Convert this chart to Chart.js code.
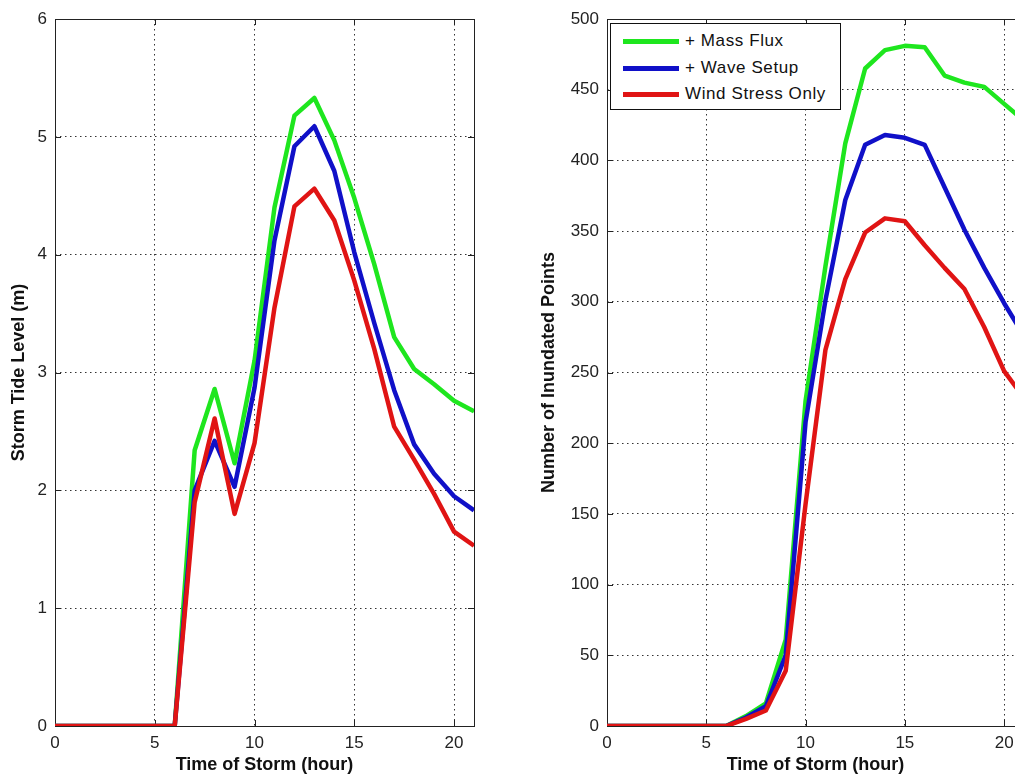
<!DOCTYPE html>
<html>
<head>
<meta charset="utf-8">
<script src="https://cdn.jsdelivr.net/npm/chart.js@4"></script>
<style>
html, body { margin: 0; padding: 0; background: #fff; overflow: hidden; }
#wrap { position: relative; width: 1015px; height: 778px; overflow: hidden; background: #fff; }
#tideChart { position: absolute; left: 0; top: 0; }
#pointsChart { position: absolute; left: 530px; top: 0; }
#legend { position: absolute; left: 610px; top: 23px; width: 231px; height: 87px; box-sizing: border-box;
  border: 1px solid #111; background: #fff; font-family: "Liberation Sans", Arial, sans-serif; font-size: 17px; color: #111; }
.row { position: absolute; left: 0; height: 20px; }
.swatch { position: absolute; left: 12px; top: 8px; width: 56px; height: 5px; }
.lbl { position: absolute; left: 74px; top: 0; white-space: nowrap; line-height: 20px; letter-spacing: 0.6px; }
</style>
</head>
<body>
<div id="wrap">
  <canvas id="tideChart" width="490" height="778" style="width:490px;height:778px"></canvas>
  <canvas id="pointsChart" width="510" height="778" style="width:510px;height:778px"></canvas>
  <div id="legend"></div>
</div>
<script>
// hours of the storm
const hours = [0, 1, 2, 3, 4, 5, 6, 7, 8, 9, 10, 11, 12, 13, 14, 15, 16, 17, 18, 19, 20, 21];

const seriesNames = ['+ Mass Flux', '+ Wave Setup', 'Wind Stress Only'];
const seriesColors = ['#1ee61e', '#1010c8', '#e01414'];

// storm tide level (m)
const tideMassFlux = [0, 0, 0, 0, 0, 0, 0, 2.34, 2.86, 2.23, 3.1, 4.4, 5.18, 5.33, 4.97, 4.48, 3.92, 3.3, 3.03, 2.9, 2.76, 2.67];
const tideWaveSetup = [0, 0, 0, 0, 0, 0, 0, 2.0, 2.42, 2.03, 2.87, 4.12, 4.92, 5.09, 4.71, 4.02, 3.42, 2.85, 2.39, 2.14, 1.95, 1.83];
const tideWindOnly = [0, 0, 0, 0, 0, 0, 0, 1.9, 2.61, 1.8, 2.4, 3.55, 4.41, 4.56, 4.29, 3.78, 3.2, 2.54, 2.26, 1.97, 1.65, 1.53];

// number of inundated points
const ptsMassFlux = [0, 0, 0, 0, 0, 0, 0, 7, 16, 61, 230, 325, 412, 465, 478, 481, 480, 460, 455, 452, 440, 428];
const ptsWaveSetup = [0, 0, 0, 0, 0, 0, 0, 6, 14, 50, 215, 301, 372, 411, 418, 416, 411, 381, 351, 324, 299, 276];
const ptsWindOnly = [0, 0, 0, 0, 0, 0, 0, 5, 11, 39, 157, 266, 316, 349, 359, 357, 340, 324, 309, 282, 251, 232];

const xTitle = 'Time of Storm (hour)';
const tideTitle = 'Storm Tide Level (m)';
const ptsTitle = 'Number of Inundated Points';

const fontFamily = '"Liberation Sans", Arial, sans-serif';

// box round the plot with inward ticks, like matlab
const matlabBox = {
  id: 'matlabBox',
  beforeDatasetsDraw(chart) {
    const ctx = chart.ctx;
    const a = chart.chartArea;
    const x = chart.scales.x, y = chart.scales.y;
    ctx.save();
    ctx.strokeStyle = '#222';
    ctx.lineWidth = 1;
    ctx.strokeRect(Math.round(a.left) + 0.5, Math.round(a.top) + 0.5, Math.round(a.right - a.left), Math.round(a.bottom - a.top));
    ctx.beginPath();
    x.ticks.forEach(t => {
      const px = Math.round(x.getPixelForValue(t.value)) + 0.5;
      ctx.moveTo(px, a.bottom); ctx.lineTo(px, a.bottom - 6);
      ctx.moveTo(px, a.top); ctx.lineTo(px, a.top + 6);
    });
    y.ticks.forEach(t => {
      const py = Math.round(y.getPixelForValue(t.value)) + 0.5;
      ctx.moveTo(a.left, py); ctx.lineTo(a.left + 6, py);
      ctx.moveTo(a.right, py); ctx.lineTo(a.right - 6, py);
    });
    ctx.stroke();
    ctx.restore();
  }
};

function makeDatasets(arrays) {
  // red on top, then blue, then green
  return arrays.map((arr, i) => ({
    label: seriesNames[i],
    data: hours.map((h, j) => ({ x: h, y: arr[j] })),
    borderColor: seriesColors[i],
    backgroundColor: seriesColors[i],
    borderWidth: 4.5,
    pointRadius: 0,
    tension: 0,
    borderJoinStyle: 'round',
    order: arrays.length - 1 - i
  }));
}

function makeConfig(arrays, yMax, yStep, yTitle, yWidth) {
  return {
    type: 'line',
    data: { datasets: makeDatasets(arrays) },
    plugins: [matlabBox],
    options: {
      responsive: false,
      animation: false,
      devicePixelRatio: 1,
      layout: { padding: { top: 19, right: 16, bottom: 0, left: 0 } },
      plugins: { legend: { display: false }, tooltip: { enabled: false } },
      scales: {
        x: {
          type: 'linear',
          min: 0,
          max: 21,
          border: { display: false, dash: [1.5, 3.5] },
          grid: { color: '#333', lineWidth: 1, drawTicks: false },
          ticks: { stepSize: 5, includeBounds: false, padding: 7, color: '#222', font: { family: fontFamily, size: 17 } },
          title: { display: true, text: xTitle, color: '#111', padding: { top: 0, bottom: 2 },
                   font: { family: fontFamily, size: 18, weight: 'bold' } },
          afterFit(scale) { scale.height = 52; }
        },
        y: {
          min: 0,
          max: yMax,
          border: { display: false, dash: [1.5, 3.5] },
          grid: { color: '#333', lineWidth: 1, drawTicks: false },
          ticks: { stepSize: yStep, padding: 8, color: '#222', font: { family: fontFamily, size: 17 } },
          title: { display: true, text: yTitle, color: '#111', padding: { top: 8, bottom: 0 },
                   font: { family: fontFamily, size: 18, weight: 'bold' } },
          afterFit(scale) { scale.width = yWidth; }
        }
      }
    }
  };
}

new Chart(document.getElementById('tideChart'),
  makeConfig([tideMassFlux, tideWaveSetup, tideWindOnly], 6, 1, tideTitle, 55));
new Chart(document.getElementById('pointsChart'),
  makeConfig([ptsMassFlux, ptsWaveSetup, ptsWindOnly], 500, 50, ptsTitle, 77));

// legend box inside the right plot
const legendEl = document.getElementById('legend');
seriesNames.forEach((name, i) => {
  const row = document.createElement('div');
  row.className = 'row';
  row.style.top = (7 + i * 26.5) + 'px';
  row.style.width = '100%';
  row.innerHTML = '<div class="swatch" style="background:' + seriesColors[i] + '"></div><div class="lbl">' + name + '</div>';
  legendEl.appendChild(row);
});
</script>
</body>
</html>
